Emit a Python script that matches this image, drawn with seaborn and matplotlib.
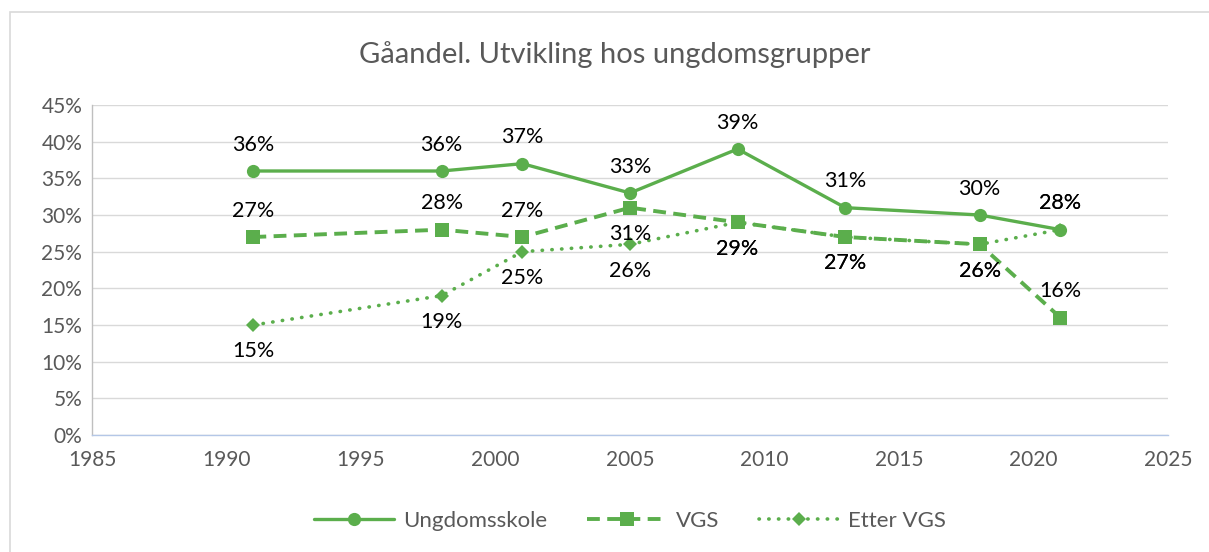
import matplotlib
matplotlib.use("Agg")
import matplotlib.pyplot as plt
import seaborn as sns
import pandas as pd
from matplotlib.patches import Rectangle
from matplotlib.ticker import PercentFormatter

# data
years = [1991, 1998, 2001, 2005, 2009, 2013, 2018, 2021]
ungdomsskole = [36, 36, 37, 33, 39, 31, 30, 28]
vgs = [27, 28, 27, 31, 29, 27, 26, 16]
etter_vgs = [15, 19, 25, 26, 29, 27, 26, 28]
series_names = ["Ungdomsskole", "VGS", "Etter VGS"]

# label placement: +1 above point, -1 below
label_side = {
    "Ungdomsskole": [1, 1, 1, 1, 1, 1, 1, 1],
    "VGS": [1, 1, 1, -1, -1, -1, -1, 1],
    "Etter VGS": [-1, -1, -1, -1, -1, -1, -1, 1],
}

df = pd.DataFrame({"År": years, "Ungdomsskole": ungdomsskole,
                   "VGS": vgs, "Etter VGS": etter_vgs})

sns.set_theme(style="white")
plt.rcParams['font.family'] = ['Lato', 'DejaVu Sans']

green = '#5BAE4C'
gray_txt = '#595959'

fig = plt.figure(figsize=(12.09, 5.52), dpi=100)
ax = fig.add_axes([92/1209, 1 - 435/552, (1168-92)/1209, (435-105)/552])

styles = {
    "Ungdomsskole": dict(linestyle='-', marker='o', markersize=9.5, linewidth=2.4),
    "VGS": dict(linestyle=(0, (3.3, 1.9)), marker='s', markersize=9.5, linewidth=2.8),
    "Etter VGS": dict(linestyle=(0, (0.1, 2.6)), marker='D', markersize=7,
                      linewidth=2.6, dash_capstyle='round'),
}

for name in series_names:
    sns.lineplot(data=df, x="År", y=name, ax=ax, color=green, label=name,
                 markeredgewidth=0, **styles[name])
    for x, y, s in zip(years, df[name], label_side[name]):
        ax.annotate(f"{y}%", (x, y), textcoords='offset points',
                    xytext=(0, 19 * s), ha='center', va='center',
                    fontsize=15.5, color='#000000')

ax.set_xlim(1985, 2025)
ax.set_ylim(0, 45)
ax.set_xticks(range(1985, 2026, 5))
ax.set_yticks(range(0, 46, 5))
ax.yaxis.set_major_formatter(PercentFormatter(decimals=0))
ax.tick_params(axis='both', labelsize=15, colors=gray_txt, length=0)
ax.tick_params(axis='x', pad=11)
ax.tick_params(axis='y', pad=7)
ax.set_xlabel("")
ax.set_ylabel("")
ax.grid(axis='y', color='#D9D9D9', linewidth=1)
for side in ['top', 'right']:
    ax.spines[side].set_visible(False)
ax.spines['left'].set_color('#BFBFBF')
ax.spines['bottom'].set_color('#B4C7E7')
ax.spines['left'].set_linewidth(1)
ax.spines['bottom'].set_linewidth(1)

fig.suptitle("Gåandel. Utvikling hos ungdomsgrupper", x=615/1209, y=1 - 55/552,
             va='center', fontsize=21, color=gray_txt)

ax.legend(loc='center', bbox_to_anchor=(0.5, -0.26), ncol=3, frameon=False,
          fontsize=16, labelcolor=gray_txt, handlelength=3.6, columnspacing=1.8,
          handletextpad=0.4)

fig.add_artist(Rectangle((10/1209, -0.05), 1.1, 1 - 12/552 + 0.05,
                         transform=fig.transFigure, fill=False,
                         edgecolor='#D9D9D9', linewidth=1.2))

fig.savefig("out.png", dpi=100)
